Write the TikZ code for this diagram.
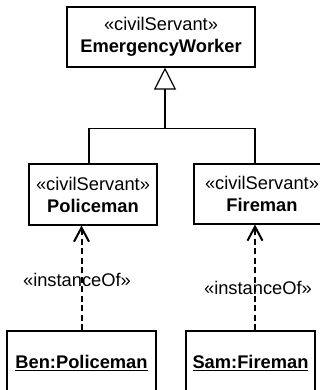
\documentclass[tikz,border=0pt]{standalone}
\usepackage{fontspec}
\setmainfont{Liberation Sans}
\usetikzlibrary{arrows.meta}
\begin{document}
\begin{tikzpicture}[x=1pt,y=-1pt,
  umlbox/.style={draw, line width=1.1pt, rectangle, inner sep=0pt, align=center,
    font=\fontsize{18.3}{22}\selectfont},
  gen/.style={line width=1.5pt},
  realize/.style={line width=2pt, dash pattern=on 6pt off 3.5pt,
    -{Straight Barb[length=14pt,width=15pt,line width=2pt]}},
  lbl/.style={font=\fontsize{18.3}{22}\selectfont, inner sep=0pt}]
  \useasboundingbox (0,0) rectangle (320,390);
  \fill[white] (0,0) rectangle (320,390);
  \clip (0,0) rectangle (320,390);

  % class boxes
  \node[umlbox, minimum width=188pt, minimum height=60pt] (top) at (161,37)
    {«civilServant»\\\textbf{EmergencyWorker}};
  \node[umlbox, minimum width=128pt, minimum height=61pt] (pol) at (93,194.5)
    {«civilServant»\\\textbf{Policeman}};
  \node[umlbox, minimum width=136pt, minimum height=60pt] (fire) at (262,194)
    {«civilServant»\\\textbf{Fireman}};

  % object boxes
  \node[umlbox, minimum width=149pt, minimum height=64pt] (ben) at (81.5,363)
    {\textbf{\underline{Ben:Policeman}}};
  \node[umlbox, minimum width=129pt, minimum height=64pt] (sam) at (250.5,363)
    {\textbf{\underline{Sam:Fireman}}};

  % generalization
  \coordinate (apex) at ([xshift=4pt]top.south);
  \coordinate (join) at ([yshift=-61pt]apex);
  \draw[gen] ([xshift=-4pt]pol.north) |- (join) -| ([xshift=-7pt]fire.north);
  \draw[gen, -{Triangle[open, length=22pt, width=22pt, line width=1.2pt, fill=white]}]
    (join) -- (apex);

  % instance-of dependencies
  \draw[realize] (ben.north) -- (ben.north |- pol.south);
  \draw[realize] ([xshift=4.5pt]sam.north) -- ([xshift=4.5pt]sam.north |- fire.south);
  \node[lbl] (l1) at (77,280) {«instanceOf»};
  \node[lbl] (l2) at (258,288) {«instanceOf»};
\end{tikzpicture}
\end{document}
